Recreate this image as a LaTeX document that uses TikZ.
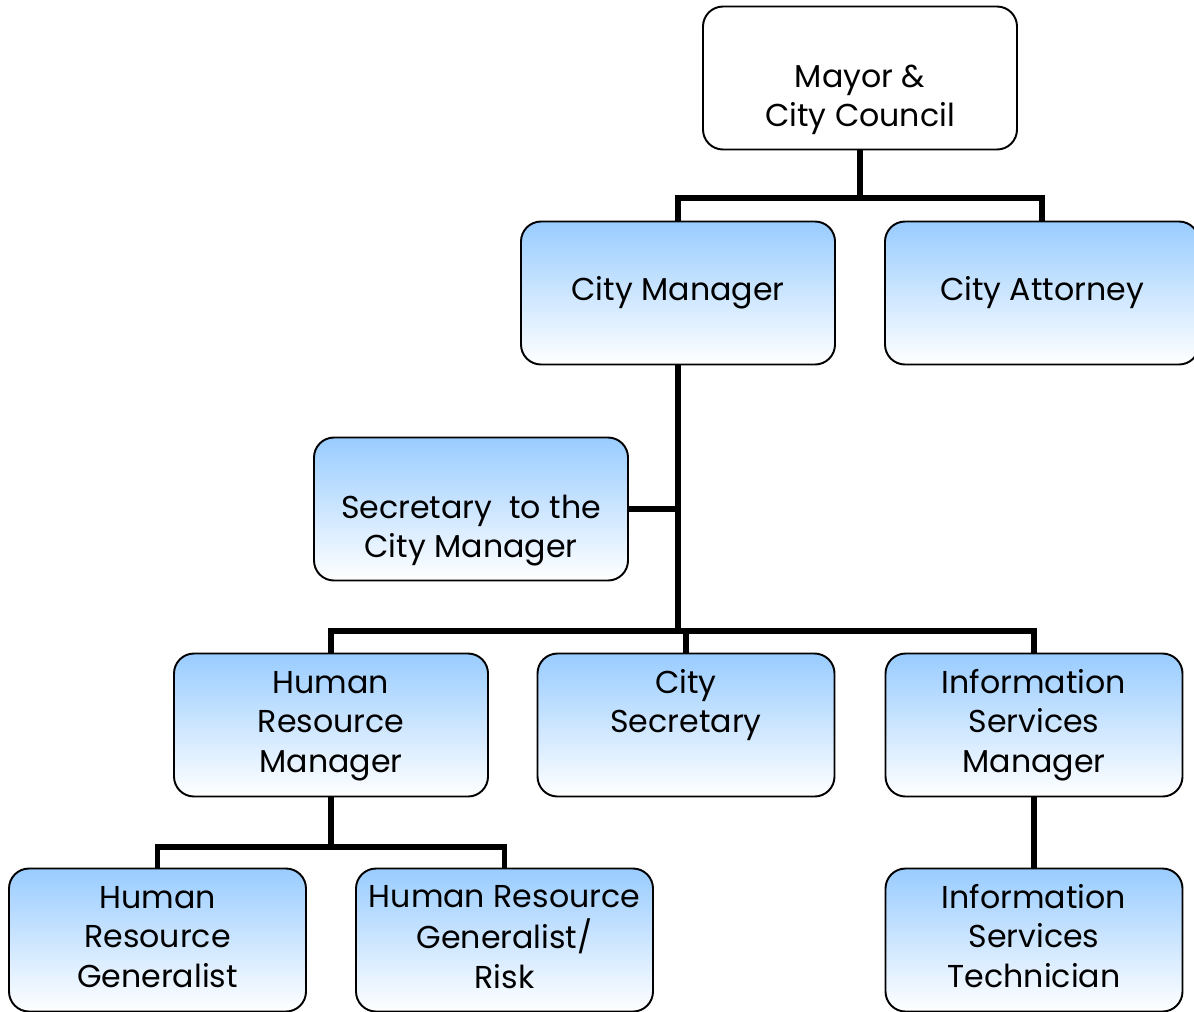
\documentclass[tikz,border=0pt]{standalone}
\usepackage{fontspec}
\setmainfont{Poppins}
\usetikzlibrary{positioning}

\definecolor{boxblue}{RGB}{153,204,255}
\newcommand{\boxtext}[2][0pt]{\raisebox{#1}[\height][\depth]{\begin{tabular}{@{}c@{}}#2\end{tabular}}}

\tikzset{
  unit/.style={draw,line width=1.1pt,rounded corners=0.4cm,minimum width=5.94cm,minimum height=2.86cm,
    inner sep=0pt,top color=boxblue,middle color=boxblue!40,bottom color=white,
    font=\fontsize{18}{22.6}\selectfont},
  wideunit/.style={unit,minimum width=6.28cm},
  topunit/.style={wideunit,top color=white,middle color=white,bottom color=white},
  link/.style={line width=3.4pt}
}

\begin{document}
\begin{tikzpicture}[node distance=4.3cm,on grid]
    \useasboundingbox (0,0) rectangle (23.88,-20.22);

    \node[topunit] (mayor) at (17.2,-1.56) {\boxtext[-0.42cm]{Mayor \&\\City Council}};
    \node[wideunit] (mgr) [below left=4.30cm and 3.64cm of mayor] {\boxtext{City Manager}};
    \node[wideunit] (atty) [right=7.28cm of mgr] {\boxtext{City Attorney}};
    \node[wideunit] (sec) [below left=4.32cm and 4.14cm of mgr] {\boxtext[-0.42cm]{Secretary~ to the\\City Manager}};
    \node[wideunit] (hrm) [below left=4.32cm and 2.80cm of sec] {\boxtext{Human\\Resource\\Manager}};
    \node[unit] (csec) [right=7.10cm of hrm] {\boxtext[0.40cm]{City\\Secretary}};
    \node[unit] (ism) [right=6.96cm of csec] {\boxtext{Information\\Services\\Manager}};
    \node[unit] (hrg) [below left=4.30cm and 3.47cm of hrm] {\boxtext{Human\\Resource\\Generalist}};
    \node[unit] (hrgr) [right=6.94cm of hrg] {\boxtext{Human Resource\\Generalist/\\Risk}};
    \node[unit] (ist) [below=of ism] {\boxtext{Information\\Services\\Technician}};

    % council level
    \draw[link] (mayor.south) -- ++(0,-0.96) coordinate (cc)
                (cc) -| (mgr.north)
                (cc) -| (atty.north);
    % manager level
    \draw[link] (mgr.south) -- ++(0,-5.31) coordinate (mm)
                (mm) -| (hrm.north)
                (mm) -| (csec.north)
                (mm) -| (ism.north);
    \draw[link] (sec.east) -- (sec.east -| mgr.south);
    % departments
    \draw[link] (hrm.south) -- ++(0,-0.99) coordinate (hh)
                (hh) -| (hrg.north)
                (hh) -| (hrgr.north);
    \draw[link] (ism.south) -- (ist.north);
  \end{tikzpicture}
\end{document}
